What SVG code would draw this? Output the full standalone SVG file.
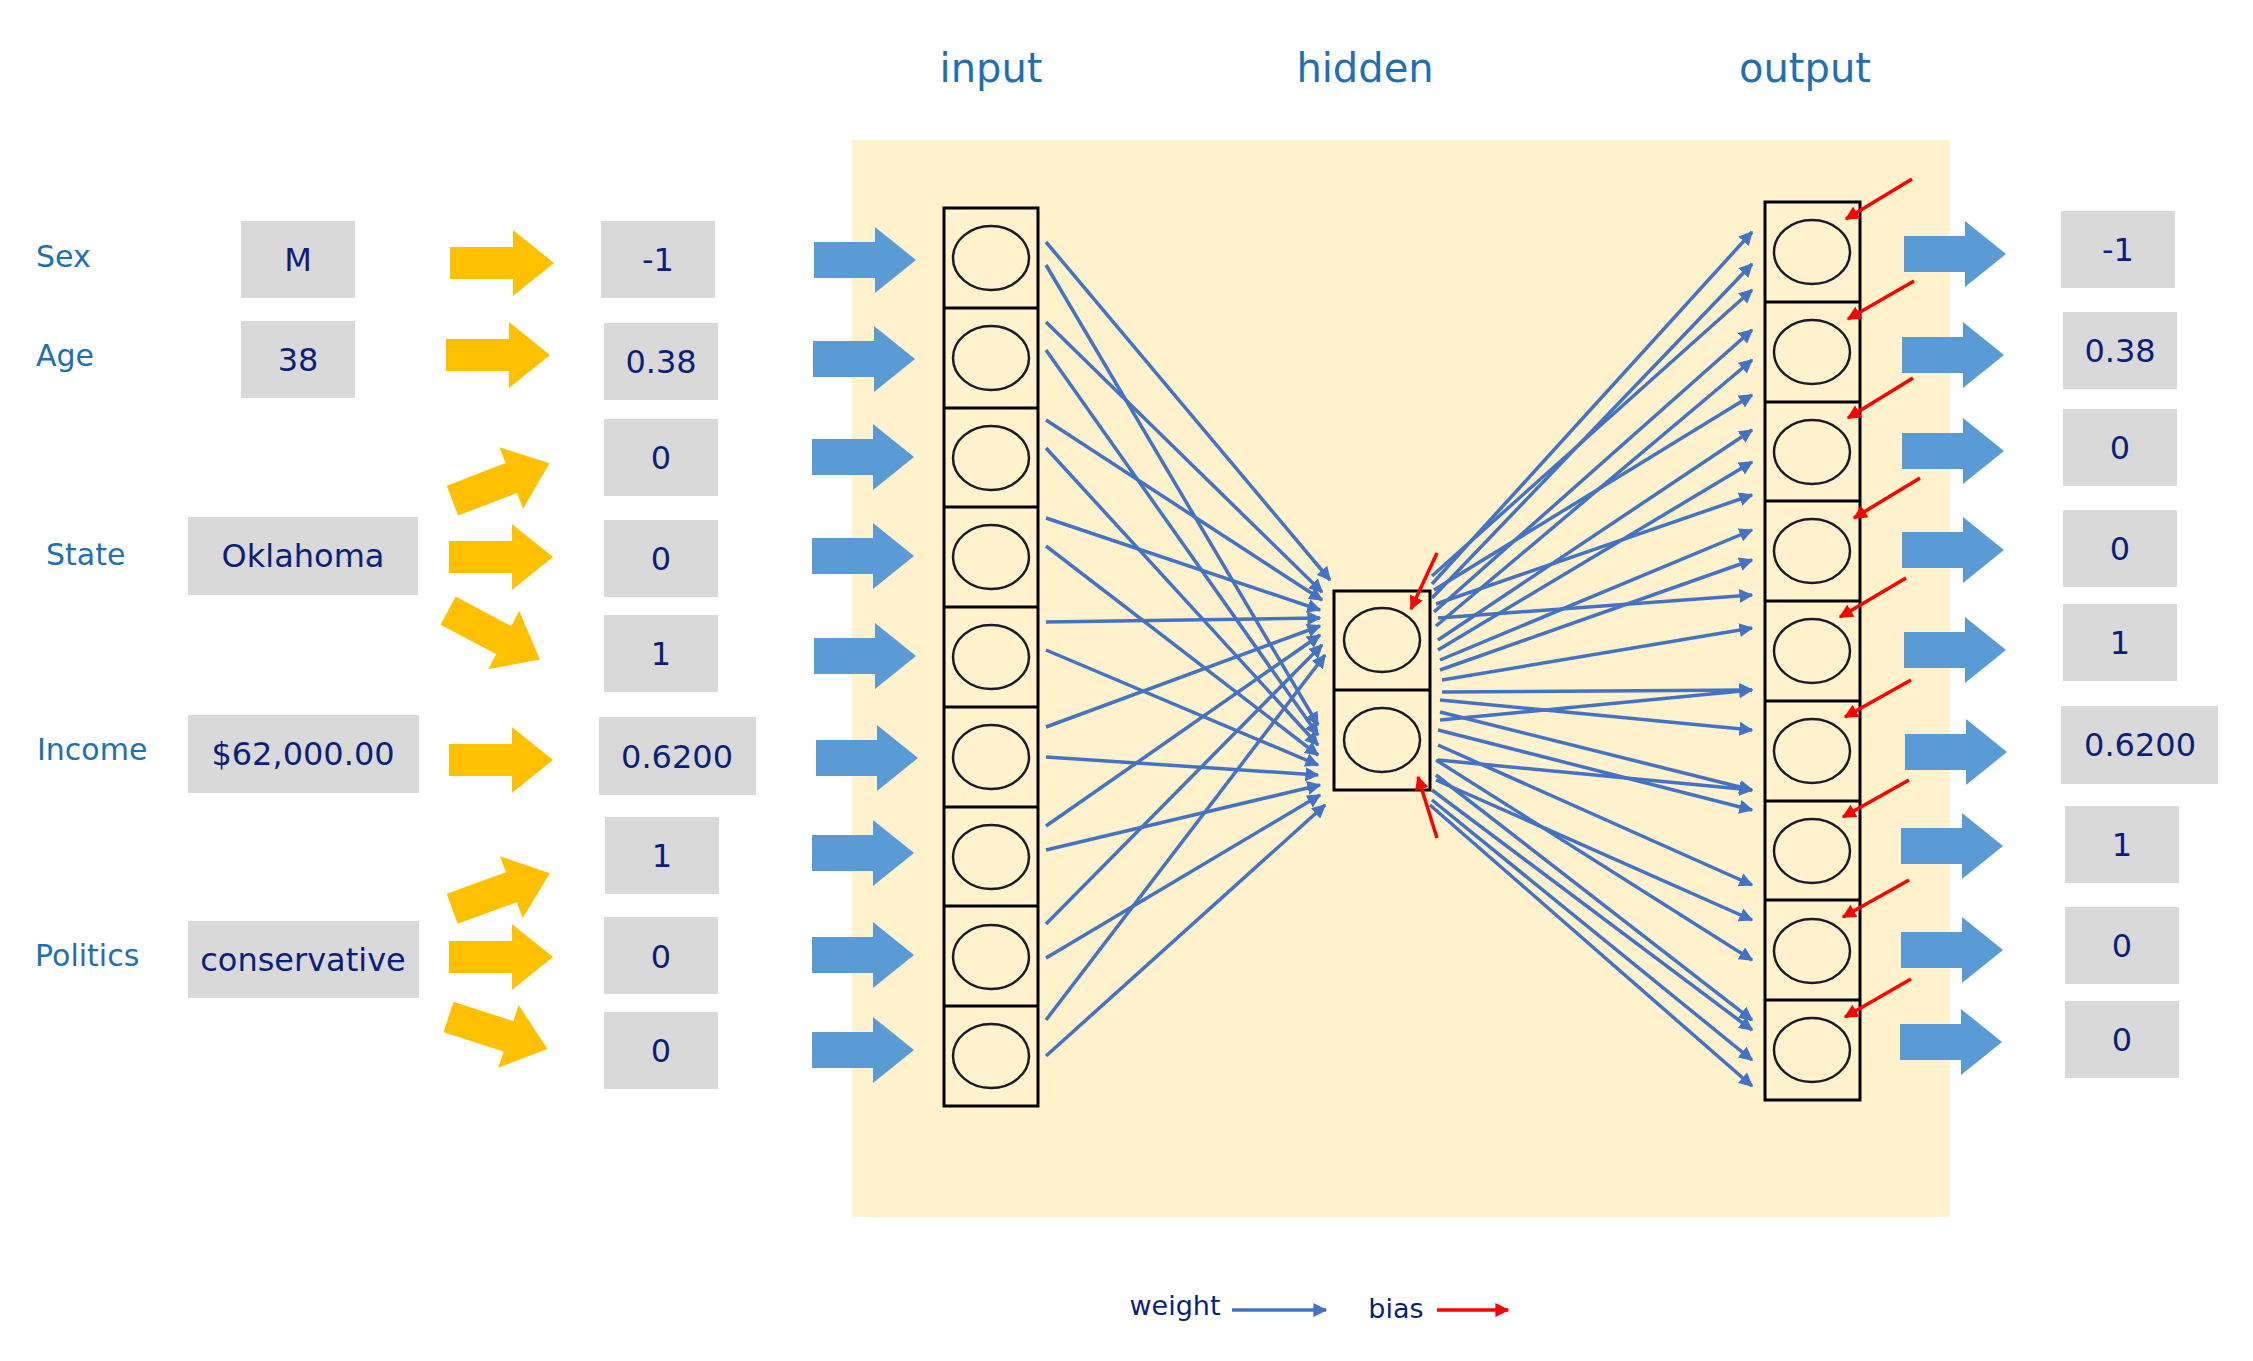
<svg xmlns="http://www.w3.org/2000/svg" width="2253" height="1361" viewBox="0 0 2253 1361">
<defs>
<style>
.lb{font-family:"DejaVu Sans",Verdana,sans-serif;font-size:30px;fill:#1F6FB4}
.ti{font-family:"DejaVu Sans",Verdana,sans-serif;font-size:40px;fill:#1F6FB4;text-anchor:middle}
.v{font-family:"DejaVu Sans",Verdana,sans-serif;font-size:32px;fill:#0A1F7A;text-anchor:middle;dominant-baseline:central}
.bx{fill:#D9D9D9}
.cell{fill:none;stroke:#000;stroke-width:3}
.nd{fill:none;stroke:#1a1a2a;stroke-width:2.5}
.w{stroke:#4472C4;stroke-width:3.5;fill:none;marker-end:url(#mb)}
.b{stroke:#FF0000;stroke-width:3.5;fill:none;marker-end:url(#mr)}
</style>
<marker id="mb" viewBox="0 0 10 10" refX="9" refY="5" markerWidth="4" markerHeight="4" orient="auto"><path d="M0,0L10,5L0,10z" fill="#4472C4"/></marker>
<marker id="mr" viewBox="0 0 10 10" refX="9" refY="5" markerWidth="4" markerHeight="4" orient="auto"><path d="M0,0L10,5L0,10z" fill="#FF0000"/></marker>
<path id="ya" d="M-52,-16H11V-33L52,0L11,33V16H-52z" fill="#FFC000"/>
<path id="ba" d="M-51,-18H10V-33L51,0L10,33V18H-51z" fill="#5B9BD5"/>
</defs>
<rect x="852" y="140" width="1098" height="1077" fill="#FFF2CC"/>
<text class="ti" x="991" y="82">input</text>
<text class="ti" x="1365" y="82">hidden</text>
<text class="ti" x="1805" y="82">output</text>
<g id="labels">
<text class="lb" x="36" y="267">Sex</text>
<text class="lb" x="36" y="366">Age</text>
<text class="lb" x="46" y="565">State</text>
<text class="lb" x="37" y="760">Income</text>
<text class="lb" x="35" y="966">Politics</text>
</g>
<g id="raw">
<rect class="bx" x="241" y="221" width="114" height="77"/><text class="v" x="298" y="260">M</text>
<rect class="bx" x="241" y="321" width="114" height="77"/><text class="v" x="298" y="360">38</text>
<rect class="bx" x="188" y="517" width="230" height="78"/><text class="v" x="303" y="556">Oklahoma</text>
<rect class="bx" x="188" y="715" width="231" height="78"/><text class="v" x="303" y="754">$62,000.00</text>
<rect class="bx" x="188" y="921" width="231" height="77"/><text class="v" x="303" y="960">conservative</text>
</g>
<g id="yellow-arrows">
<use href="#ya" transform="translate(502,263)"/>
<use href="#ya" transform="translate(498,355)"/>
<use href="#ya" transform="translate(501,482) rotate(-21)"/>
<use href="#ya" transform="translate(501,557)"/>
<use href="#ya" transform="translate(494,635) rotate(28)"/>
<use href="#ya" transform="translate(501,760)"/>
<use href="#ya" transform="translate(501,891) rotate(-20)"/>
<use href="#ya" transform="translate(501,957)"/>
<use href="#ya" transform="translate(498,1033) rotate(18)"/>
</g>
<g id="encoded">
<rect class="bx" x="601" y="221" width="114" height="77"/><text class="v" x="658" y="260">-1</text>
<rect class="bx" x="604" y="323" width="114" height="77"/><text class="v" x="661" y="362">0.38</text>
<rect class="bx" x="604" y="419" width="114" height="77"/><text class="v" x="661" y="458">0</text>
<rect class="bx" x="604" y="520" width="114" height="77"/><text class="v" x="661" y="559">0</text>
<rect class="bx" x="604" y="615" width="114" height="77"/><text class="v" x="661" y="654">1</text>
<rect class="bx" x="599" y="717" width="157" height="78"/><text class="v" x="677" y="757">0.6200</text>
<rect class="bx" x="605" y="817" width="114" height="77"/><text class="v" x="662" y="856">1</text>
<rect class="bx" x="604" y="917" width="114" height="77"/><text class="v" x="661" y="957">0</text>
<rect class="bx" x="604" y="1012" width="114" height="77"/><text class="v" x="661" y="1051">0</text>
</g>
<g id="in-arrows">
<use href="#ba" transform="translate(865,260)"/>
<use href="#ba" transform="translate(864,359)"/>
<use href="#ba" transform="translate(863,457)"/>
<use href="#ba" transform="translate(863,556)"/>
<use href="#ba" transform="translate(865,656)"/>
<use href="#ba" transform="translate(867,758)"/>
<use href="#ba" transform="translate(863,853)"/>
<use href="#ba" transform="translate(863,955)"/>
<use href="#ba" transform="translate(863,1050)"/>
</g>
<g id="input-layer">
<rect class="cell" x="944" y="208" width="94" height="898"/>
<g stroke="#000" stroke-width="3"><line x1="944" y1="308" x2="1038" y2="308"/><line x1="944" y1="408" x2="1038" y2="408"/><line x1="944" y1="507" x2="1038" y2="507"/><line x1="944" y1="607" x2="1038" y2="607"/><line x1="944" y1="707" x2="1038" y2="707"/><line x1="944" y1="807" x2="1038" y2="807"/><line x1="944" y1="906" x2="1038" y2="906"/><line x1="944" y1="1006" x2="1038" y2="1006"/></g>
<ellipse class="nd" cx="991" cy="258" rx="38" ry="32"/><ellipse class="nd" cx="991" cy="358" rx="38" ry="32"/><ellipse class="nd" cx="991" cy="458" rx="38" ry="32"/><ellipse class="nd" cx="991" cy="557" rx="38" ry="32"/><ellipse class="nd" cx="991" cy="657" rx="38" ry="32"/><ellipse class="nd" cx="991" cy="757" rx="38" ry="32"/><ellipse class="nd" cx="991" cy="857" rx="38" ry="32"/><ellipse class="nd" cx="991" cy="957" rx="38" ry="32"/><ellipse class="nd" cx="991" cy="1056" rx="38" ry="32"/>
</g>
<g id="hidden-layer">
<rect class="cell" x="1334" y="591" width="96" height="199"/>
<line x1="1334" y1="690" x2="1430" y2="690" stroke="#000" stroke-width="3"/>
<ellipse class="nd" cx="1382" cy="640" rx="38" ry="32"/><ellipse class="nd" cx="1382" cy="740" rx="38" ry="32"/>
</g>
<g id="output-layer">
<rect class="cell" x="1765" y="202" width="95" height="898"/>
<g stroke="#000" stroke-width="3"><line x1="1765" y1="302" x2="1860" y2="302"/><line x1="1765" y1="402" x2="1860" y2="402"/><line x1="1765" y1="501" x2="1860" y2="501"/><line x1="1765" y1="601" x2="1860" y2="601"/><line x1="1765" y1="701" x2="1860" y2="701"/><line x1="1765" y1="801" x2="1860" y2="801"/><line x1="1765" y1="900" x2="1860" y2="900"/><line x1="1765" y1="1000" x2="1860" y2="1000"/></g>
<ellipse class="nd" cx="1812" cy="252" rx="38" ry="32"/><ellipse class="nd" cx="1812" cy="352" rx="38" ry="32"/><ellipse class="nd" cx="1812" cy="452" rx="38" ry="32"/><ellipse class="nd" cx="1812" cy="551" rx="38" ry="32"/><ellipse class="nd" cx="1812" cy="651" rx="38" ry="32"/><ellipse class="nd" cx="1812" cy="751" rx="38" ry="32"/><ellipse class="nd" cx="1812" cy="851" rx="38" ry="32"/><ellipse class="nd" cx="1812" cy="951" rx="38" ry="32"/><ellipse class="nd" cx="1812" cy="1050" rx="38" ry="32"/>
</g>
<g id="connectors">
<path class="w" d="M1046,242L1330,580"/><path class="w" d="M1046,265L1318,725"/>
<path class="w" d="M1046,322L1322,592"/><path class="w" d="M1046,350L1318,735"/>
<path class="w" d="M1046,420L1322,600"/><path class="w" d="M1046,448L1318,745"/>
<path class="w" d="M1046,518L1320,610"/><path class="w" d="M1046,546L1318,755"/>
<path class="w" d="M1046,622L1320,618"/><path class="w" d="M1046,650L1318,765"/>
<path class="w" d="M1046,727L1320,626"/><path class="w" d="M1046,757L1318,775"/>
<path class="w" d="M1046,826L1320,635"/><path class="w" d="M1046,850L1320,785"/>
<path class="w" d="M1046,924L1322,645"/><path class="w" d="M1046,958L1320,795"/>
<path class="w" d="M1046,1020L1325,655"/><path class="w" d="M1046,1056L1325,805"/>
<path class="w" d="M1432,584L1752,232"/><path class="w" d="M1432,598L1752,264"/>
<path class="w" d="M1434,612L1752,330"/><path class="w" d="M1436,626L1752,360"/>
<path class="w" d="M1438,640L1752,430"/><path class="w" d="M1438,650L1752,462"/>
<path class="w" d="M1440,660L1752,530"/><path class="w" d="M1440,670L1752,560"/>
<path class="w" d="M1442,680L1752,628"/><path class="w" d="M1442,692L1752,690"/>
<path class="w" d="M1440,700L1752,730"/><path class="w" d="M1440,712L1752,790"/>
<path class="w" d="M1438,730L1752,810"/><path class="w" d="M1438,745L1752,885"/>
<path class="w" d="M1436,760L1752,960"/><path class="w" d="M1436,775L1752,1020"/>
<path class="w" d="M1432,790L1752,1030"/><path class="w" d="M1430,805L1752,1086"/>
<path class="w" d="M1432,576L1752,290"/><path class="w" d="M1434,590L1752,395"/>
<path class="w" d="M1436,604L1752,495"/><path class="w" d="M1438,618L1752,595"/>
<path class="w" d="M1440,720L1752,690"/><path class="w" d="M1438,760L1752,790"/>
<path class="w" d="M1436,780L1752,920"/><path class="w" d="M1432,800L1752,1060"/>
<path class="b" d="M1437,553L1411,609"/><path class="b" d="M1437,838L1418,777"/>
<path class="b" d="M1912,179L1846,219"/><path class="b" d="M1914,281L1848,319"/>
<path class="b" d="M1913,378L1848,418"/><path class="b" d="M1920,478L1854,518"/>
<path class="b" d="M1906,578L1840,617"/><path class="b" d="M1911,680L1845,717"/>
<path class="b" d="M1909,780L1843,817"/><path class="b" d="M1909,880L1843,917"/>
<path class="b" d="M1911,979L1845,1017"/>
</g>
<g id="out-arrows">
<use href="#ba" transform="translate(1955,254)"/>
<use href="#ba" transform="translate(1953,355)"/>
<use href="#ba" transform="translate(1953,451)"/>
<use href="#ba" transform="translate(1953,550)"/>
<use href="#ba" transform="translate(1955,650)"/>
<use href="#ba" transform="translate(1956,752)"/>
<use href="#ba" transform="translate(1952,846)"/>
<use href="#ba" transform="translate(1952,950)"/>
<use href="#ba" transform="translate(1951,1042)"/>
</g>
<g id="outputs">
<rect class="bx" x="2061" y="211" width="114" height="77"/><text class="v" x="2118" y="250">-1</text>
<rect class="bx" x="2063" y="312" width="114" height="77"/><text class="v" x="2120" y="351">0.38</text>
<rect class="bx" x="2063" y="409" width="114" height="77"/><text class="v" x="2120" y="448">0</text>
<rect class="bx" x="2063" y="510" width="114" height="77"/><text class="v" x="2120" y="549">0</text>
<rect class="bx" x="2063" y="604" width="114" height="77"/><text class="v" x="2120" y="643">1</text>
<rect class="bx" x="2061" y="706" width="157" height="78"/><text class="v" x="2140" y="745">0.6200</text>
<rect class="bx" x="2065" y="806" width="114" height="77"/><text class="v" x="2122" y="845">1</text>
<rect class="bx" x="2065" y="907" width="114" height="77"/><text class="v" x="2122" y="946">0</text>
<rect class="bx" x="2065" y="1001" width="114" height="77"/><text class="v" x="2122" y="1040">0</text>
</g>
<g id="legend">
<text class="v" x="1175" y="1305" style="font-size:27px">weight</text>
<path class="w" d="M1232,1310L1326,1310"/>
<text class="v" x="1396" y="1308" style="font-size:27px">bias</text>
<path class="b" d="M1437,1310L1508,1310"/>
</g>
</svg>
